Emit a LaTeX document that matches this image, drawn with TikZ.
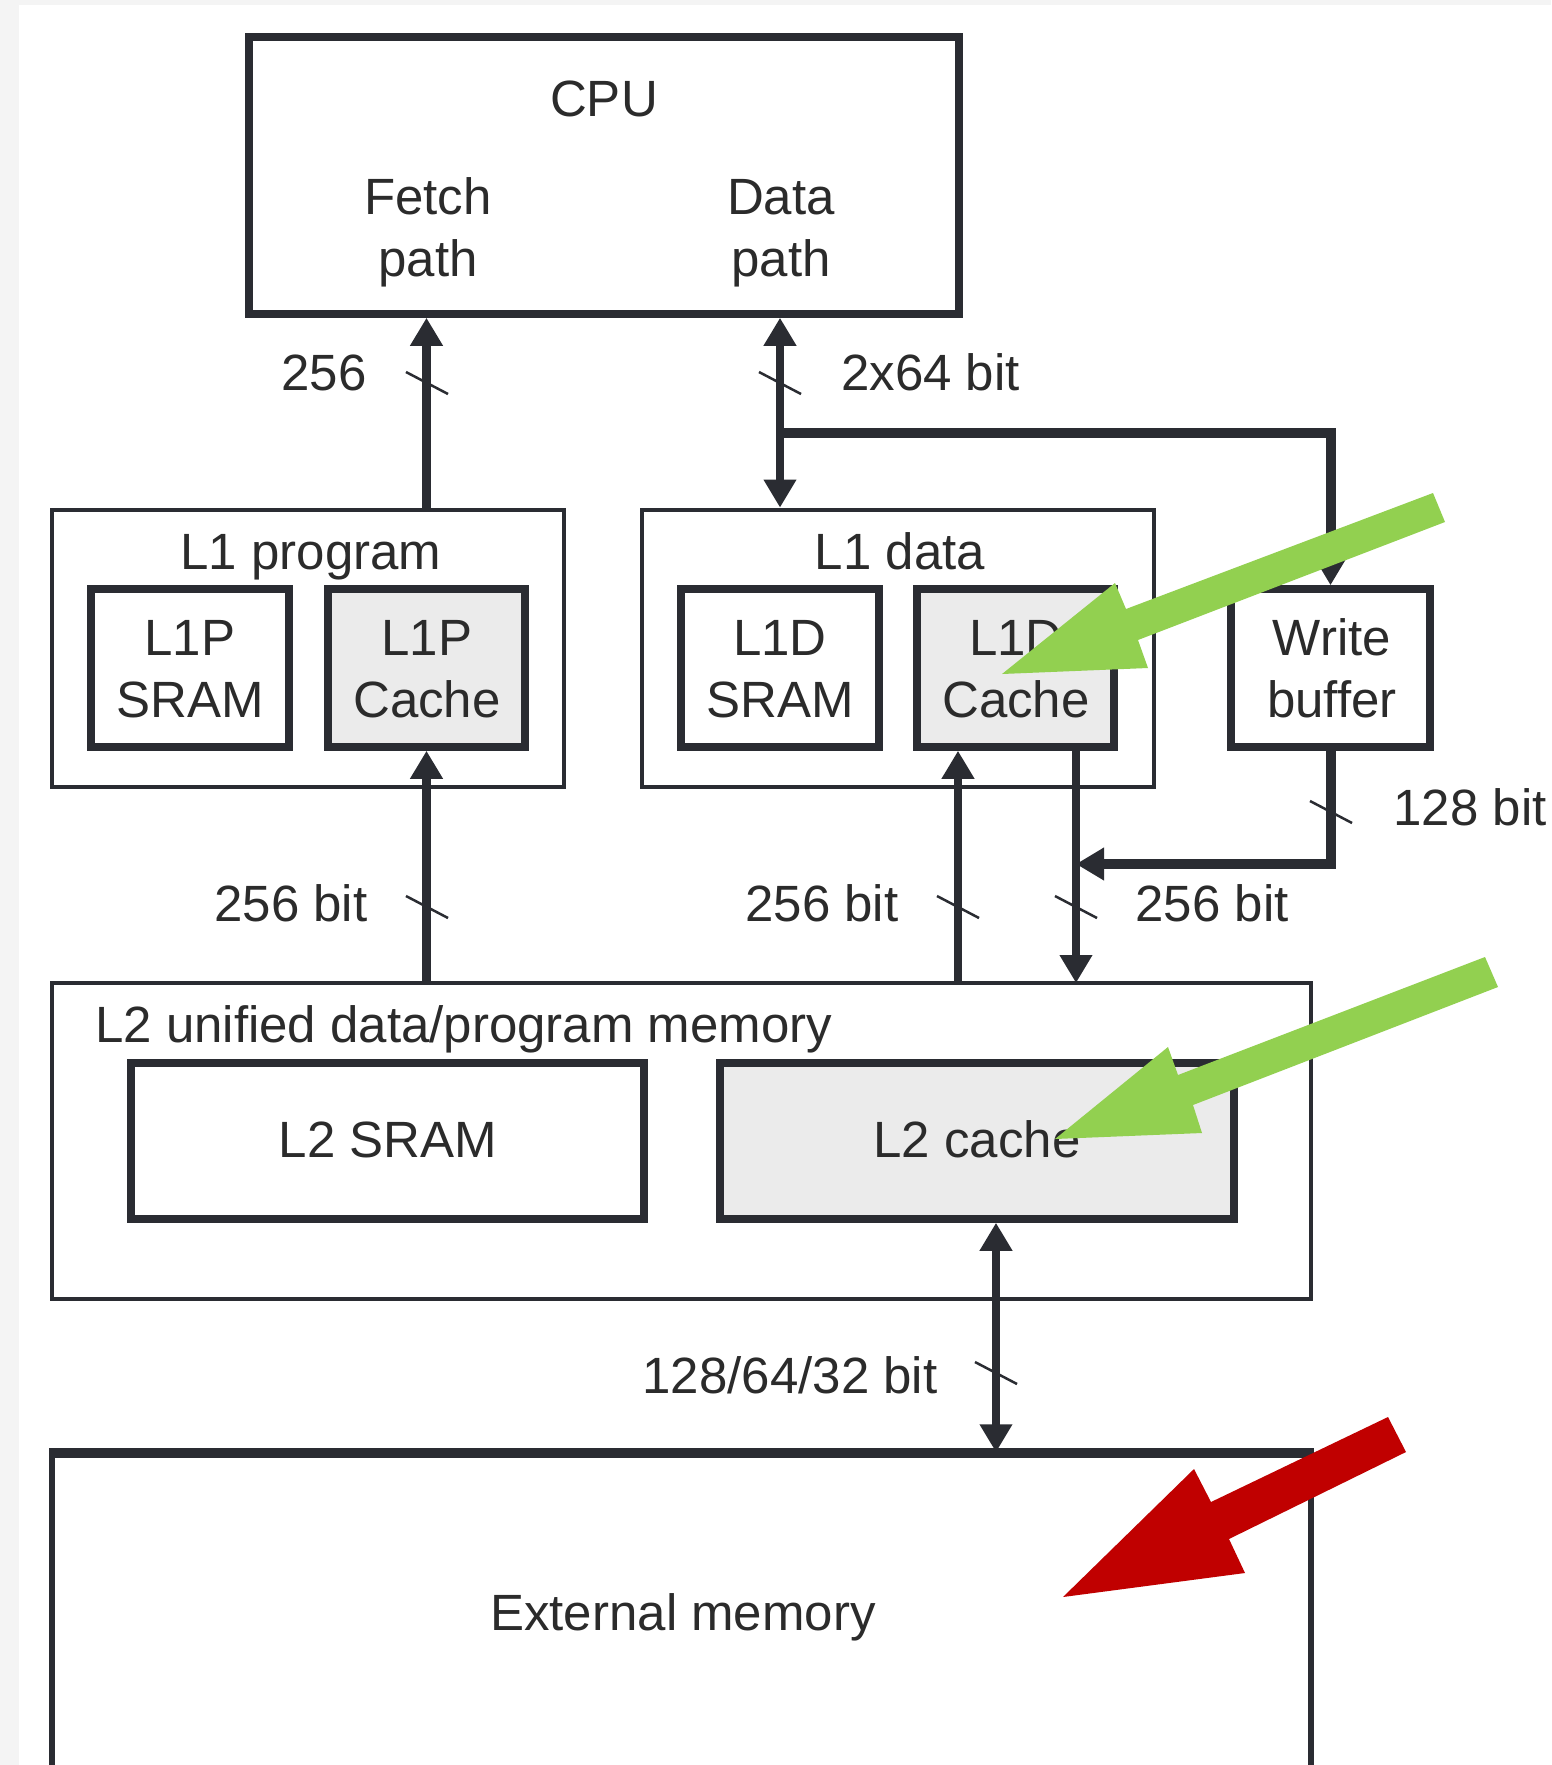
\documentclass[tikz,border=0pt]{standalone}
\usepackage{fontspec}
\setmainfont{Liberation Sans}
\usetikzlibrary{arrows.meta}
\definecolor{ink}{HTML}{2A2C32}
\definecolor{txt}{HTML}{2B2B2B}
\definecolor{cachegray}{HTML}{EBEBEB}
\definecolor{pagegray}{HTML}{F4F4F4}
\definecolor{hlgreen}{HTML}{92D050}
\definecolor{hlred}{HTML}{C00000}
\begin{document}
\begin{tikzpicture}[x=1pt,y=-1pt,
  font=\fontsize{51pt}{62pt}\selectfont, text=txt,
  bigbox/.style={draw=ink,line width=7.5pt,inner sep=0pt},
  thinbox/.style={draw=ink,line width=4.8pt,inner sep=0pt},
  cachebox/.style={bigbox,fill=cachegray},
  lbl/.style={anchor=base,inner sep=0pt,align=center,yshift=3pt},
  bus/.style={draw=ink,line width=8.5pt},
  branch/.style={draw=ink,line width=10pt},
  headend/.style={-{Triangle[width=31pt,length=28pt]}},
  headboth/.style={{Triangle[width=31pt,length=28pt]}-{Triangle[width=31pt,length=28pt]}},
  tick/.style={draw=ink,line width=2.5pt}]
\clip (0,0) rectangle (1551,1765);
\fill[pagegray] (0,0) rectangle (1551,1765);
\fill[white] (19,5) rectangle (1551,1765);

% boxes
\node[bigbox,minimum width=710pt,minimum height=277pt] (cpu) at (604,175.5) {};
\node[thinbox,minimum width=512pt,minimum height=277pt] (l1prog) at (308,648.5) {};
\node[bigbox,minimum width=198pt,minimum height=158pt] (l1ps) at (190,668) {};
\node[cachebox,minimum width=197pt,minimum height=158pt] (l1pc) at (426.5,668) {};
\node[thinbox,minimum width=512pt,minimum height=277pt] (l1data) at (898,648.5) {};
\node[bigbox,minimum width=198pt,minimum height=158pt] (l1ds) at (780,668) {};
\node[cachebox,minimum width=197pt,minimum height=158pt] (l1dc) at (1015.5,668) {};
\node[bigbox,minimum width=199pt,minimum height=158pt] (wb) at (1330.5,668) {};
\node[thinbox,minimum width=1259pt,minimum height=316pt] (l2) at (681.5,1141) {};
\node[bigbox,minimum width=513pt,minimum height=156pt] (l2s) at (387.5,1141) {};
\node[cachebox,minimum width=514pt,minimum height=156pt] (l2c) at (977,1141) {};
\node[draw=ink,line width=5.5pt,inner sep=0pt,minimum width=1259pt,minimum height=445pt] (ext) at (681.5,1677.5) {};
\draw[ink,line width=8pt] (ext.north west) -- (ext.north east);

% texts
\node[lbl] (tcpu) at (604,119) {CPU};
\node[lbl] (tfetch) at (428,279) {Fetch\\path};
\node[lbl] (tdata) at (781,279) {Data\\path};
\node[lbl] (t256a) at (324,393) {256};
\node[lbl,anchor=base west] (t264) at (841,393) {2x64 bit};
\node[lbl] (tl1p) at (311,572) {L1 program};
\node[lbl] (tl1psram) at (190,720) {L1P\\SRAM};
\node[lbl] (tl1pc) at (427,720) {L1P\\Cache};
\node[lbl] (tl1d) at (900,572) {L1 data};
\node[lbl] (tl1dsram) at (780,720) {L1D\\SRAM};
\node[lbl] (tl1dc) at (1016,720) {L1D\\Cache};
\node[lbl] (twb) at (1332,720) {Write\\buffer};
\node[lbl] (t128) at (1470,828) {128 bit};
\node[lbl] (t256b) at (291,924) {256 bit};
\node[lbl] (t256c) at (822,924) {256 bit};
\node[lbl] (t256d) at (1212,924) {256 bit};
\node[lbl,anchor=base west] (tl2) at (95,1045) {L2 unified data/program memory};
\node[lbl] (tl2sram) at (388,1160) {L2 SRAM};
\node[lbl] (tl2c) at (977,1160) {L2 cache};
\node[lbl] (tbus) at (790,1396) {128/64/32 bit};
\node[lbl] (text) at (683,1633) {External memory};

% connectors
\coordinate (brL) at (l1ds.center |- 0,433);
\coordinate (brR) at (wb.center |- 0,433);
\coordinate (upx) at (958,983);
\coordinate (dnx) at (1076,983);
\coordinate (wbj) at (1076,864);
\coordinate (exx) at (996,1300);

\draw[bus,headend] (l1pc.center |- l1prog.north) -- (l1pc.center |- cpu.south);
\draw[bus,headboth] (l1ds.center |- cpu.south) -- (l1ds.center |- l1data.north);
\draw[branch,headend] (brL) -- (brR) -- (wb.north);
\draw[bus,headend] (l1pc.center |- l2.north) -- (l1pc.south);
\draw[bus,headend] (upx) -- (upx |- l1dc.south);
\draw[bus,headend] (dnx |- l1dc.south) -- (dnx);
\draw[branch,headend] (wb.south) -- (wb.south |- wbj) -- (wbj);
\draw[bus,headboth] (exx |- l2c.south) -- (exx |- ext.north);

% ticks
\draw[tick] (427,383) +(-21,-11) -- +(21,11);
\draw[tick] (780,383) +(-21,-11) -- +(21,11);
\draw[tick] (1331,812) +(-21,-11) -- +(21,11);
\draw[tick] (427,907) +(-21,-11) -- +(21,11);
\draw[tick] (958,907) +(-21,-11) -- +(21,11);
\draw[tick] (1076,907) +(-21,-11) -- +(21,11);
\draw[tick] (996,1373) +(-21,-11) -- +(21,11);

% highlight arrows
\fill[hlgreen] (1002,674) -- (1115,583) -- (1126,609) -- (1433,493) -- (1445,522) -- (1138,640) -- (1148,668) -- cycle;
\fill[hlgreen] (1055,1139) -- (1168,1047) -- (1178,1075) -- (1485,957) -- (1498,987) -- (1193,1105) -- (1202,1133) -- cycle;
\fill[hlred] (1063,1597) -- (1194,1469) -- (1211,1502) -- (1388,1417) -- (1406,1452) -- (1229,1539) -- (1245,1573) -- cycle;
\end{tikzpicture}
\end{document}
